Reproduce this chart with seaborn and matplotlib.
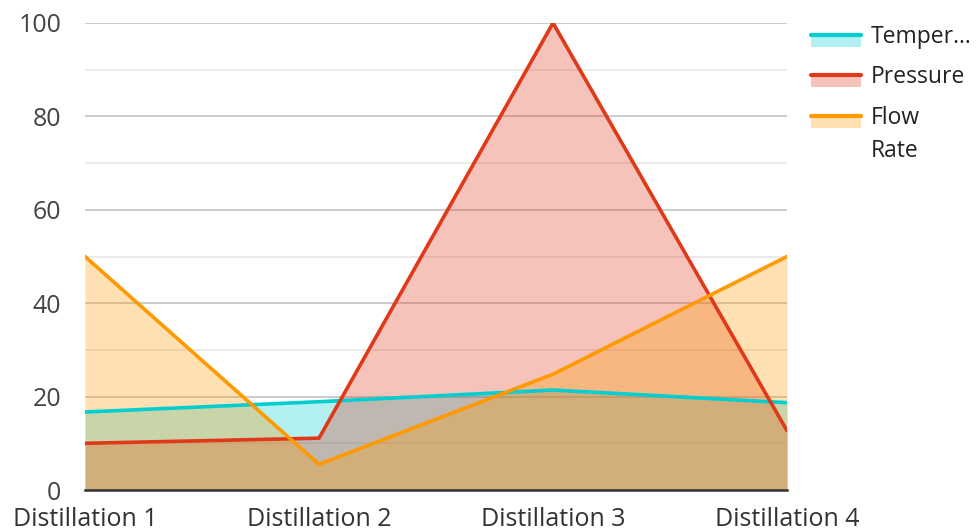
import numpy as np
import pandas as pd
import matplotlib
matplotlib.use("Agg")
import matplotlib.pyplot as plt
from matplotlib.patches import Rectangle
from matplotlib.lines import Line2D
import seaborn as sns

sns.set_theme(style="white")
plt.rcParams['font.family'] = ['Open Sans', 'DejaVu Sans']

# Datos
categorias = ["Distillation 1", "Distillation 2", "Distillation 3", "Distillation 4"]
temperatura = [16.7, 18.9, 21.4, 18.7]
presion = [10.0, 11.1, 100.0, 12.7]
caudal = [50.0, 5.5, 24.8, 50.0]

series = ["Temperature", "Pressure", "Flow Rate"]
etiquetas_leyenda = ["Temper...", "Pressure", "Flow\nRate"]
colores = ["#00CED1", "#E0391A", "#FF9900"]

df = pd.DataFrame({"categoria": categorias * 3,
                   "serie": np.repeat(series, len(categorias)),
                   "valor": temperatura + presion + caudal})

W, H = 976, 531
fig = plt.figure(figsize=(W / 100, H / 100), dpi=100)
ax = fig.add_axes([85 / W, 1 - 490 / H, (787 - 85) / W, (490 - 23) / H])

x = np.arange(len(categorias))
for vals, c in zip([temperatura, presion, caudal], colores):
    ax.fill_between(x, 0, vals, color=c, alpha=0.3, linewidth=0, zorder=2)

sns.lineplot(data=df, x="categoria", y="valor", hue="serie", palette=colores,
             linewidth=2.6, legend=False, ax=ax, zorder=3)

ax.set_xlim(0, len(categorias) - 1)
ax.set_ylim(0, 100)
ax.set_yticks(range(0, 101, 20))
ax.set_yticks(range(10, 100, 20), minor=True)
ax.grid(axis="y", which="major", color="#C8C8C8", linewidth=1.3, zorder=1)
ax.grid(axis="y", which="minor", color="#E8E8E8", linewidth=1.3, zorder=1)
ax.grid(axis="x", visible=False)
ax.set_axisbelow(True)
for lado in ["top", "right", "left"]:
    ax.spines[lado].set_visible(False)
ax.spines["bottom"].set_color("#333333")
ax.spines["bottom"].set_linewidth(1.8)
ax.set_xlabel("")
ax.set_ylabel("")
ax.set_xticks(x)
ax.set_xticklabels(categorias)
ax.tick_params(axis="y", which="both", length=0, pad=17, labelsize=18, labelcolor="#444444")
ax.tick_params(axis="x", length=0, pad=12, labelsize=18, labelcolor="#333333")

# Leyenda dibujada a mano (franja de relleno con la línea encima)
def px(xp, yp):
    return xp / W, 1 - yp / H

for i, (lab, c) in enumerate(zip(etiquetas_leyenda, colores)):
    y_linea = [35, 75, 116][i]
    x0, y0 = px(811, y_linea + 12)
    fig.patches.append(Rectangle((x0, y0), 50 / W, 12 / H, transform=fig.transFigure,
                                 color=c, alpha=0.3, linewidth=0))
    fig.lines.append(Line2D([811 / W, 861 / W], [1 - y_linea / H] * 2,
                            transform=fig.transFigure, color=c, linewidth=3))
    tx, ty = px(871, y_linea - 10)
    fig.text(tx, ty, lab, va="top", ha="left", fontsize=16.5, color="#222222",
             linespacing=1.5)

fig.savefig("out.png", dpi=100)
